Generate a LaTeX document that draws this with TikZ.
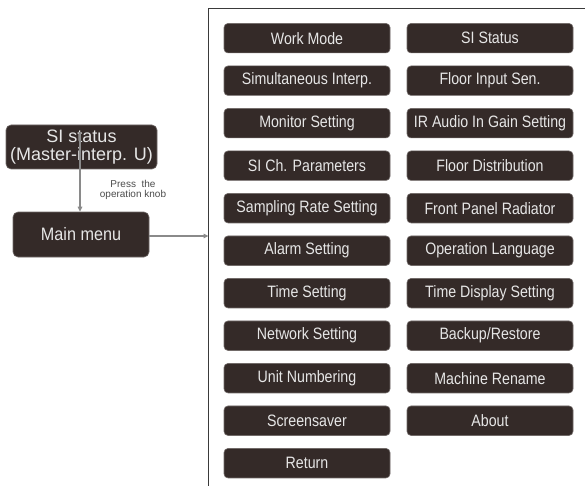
\documentclass[tikz,border=0pt]{standalone}
\usepackage{fontspec}
\setmainfont{Liberation Sans}
\newfontfamily\menufont{Liberation Sans}[FakeStretch=0.86]
\newfontfamily\mainfont{Liberation Sans}[FakeStretch=0.9]
\usetikzlibrary{arrows.meta}
\definecolor{boxfill}{HTML}{342A28}
\definecolor{boxtext}{HTML}{E6E6E6}
\definecolor{arrowgray}{HTML}{8A8A8A}
\definecolor{framegray}{HTML}{3A3A3A}
\begin{document}
\begin{tikzpicture}[x=1pt,y=-1pt,
  menubox/.style={draw=boxfill!70!white,line width=0.6pt,fill=boxfill,rounded corners=4pt,text=boxtext,
    minimum width=166pt,minimum height=29.5pt,inner sep=0pt,font=\menufont\fontsize{16.5}{18}\selectfont},
  bigbox/.style={draw=boxfill!70!white,line width=0.6pt,fill=boxfill,rounded corners=5pt,text=boxtext,inner sep=0pt,
    align=center},
  gray arrow/.style={draw=arrowgray,line width=1.2pt,-{Triangle[length=5pt,width=4.5pt]},arrowgray}]
\useasboundingbox (0,0) rectangle (585,486);
\fill[white] (0,0) rectangle (585,486);
% frame
\draw[framegray,line width=1.5pt] (208.5,486) -- (208.5,8.5) -- (586,8.5);
\coordinate (fr) at (208.5,236);
% left column
\foreach \i/\t/\n in {0/Work Mode/l0,1/Simultaneous Interp./l1,2/Monitor Setting/l2,3/SI Ch. Parameters/l3,
  4/Sampling Rate Setting/l4,5/Alarm Setting/l5,6/Time Setting/l6,7/Network Setting/l7,
  8/Unit Numbering/l8,9/Screensaver/l9,10/Return/l10}
  \node[menubox] (\n) at (307,{38.2+42.5*\i}) {\t};
\foreach \i/\t/\n in {0/SI Status/r0,1/Floor Input Sen./r1,2/IR Audio In Gain Setting/r2,3/Floor Distribution/r3,
  4/Front Panel Radiator/r4,5/Operation Language/r5,6/Time Display Setting/r6,7/{Backup/Restore}/r7,
  8/Machine Rename/r8,9/About/r9}
  \node[menubox] (\n) at (490,{38.2+42.5*\i}) {\t};
% left nodes
\node[bigbox,minimum width=151pt,minimum height=44pt,font=\fontsize{18}{19}\selectfont] (si) at (81.5,147) {SI status\\[-1.5pt](Master-interp. U)};
\node[bigbox,minimum width=136pt,minimum height=45pt,font=\mainfont\fontsize{18}{19}\selectfont] (mm) at (81,234.5) {Main menu};
\coordinate (siin) at (80,132);
\draw[gray arrow] (siin) -- (siin |- mm.north);
\node[text=black!70,font=\fontsize{10}{12}\selectfont,align=center] (lbl) at (133,189.5) {Press\ \ the\\[-2pt]operation knob};
\draw[gray arrow] (mm.east |- fr) -- (fr);
\end{tikzpicture}
\end{document}
